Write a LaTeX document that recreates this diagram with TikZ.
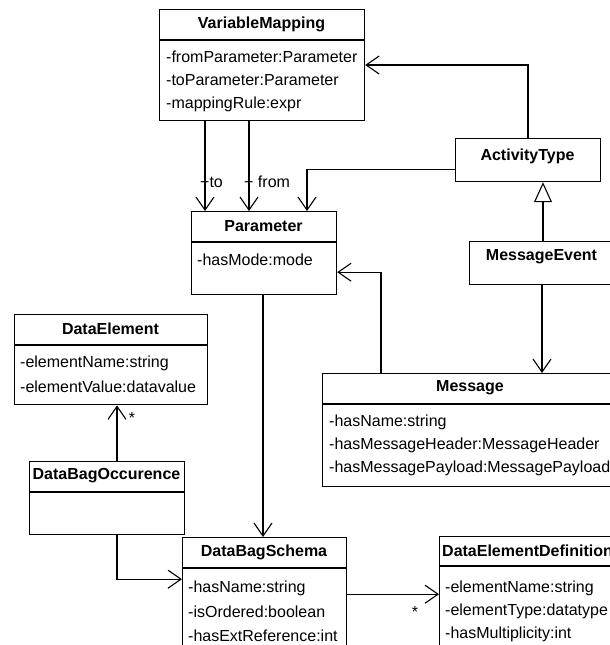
\documentclass[tikz,border=0pt]{standalone}
\usepackage{fontspec}
\setmainfont{Liberation Sans}
\usetikzlibrary{arrows.meta,calc}
\newcommand\umlfont{\fontsize{16}{19}\selectfont}
\tikzset{
  every node/.style={font=\umlfont, inner sep=0pt},
  box/.style={draw, line width=1.2pt, anchor=north west, inner sep=0pt},
  ttl/.style={font=\umlfont\bfseries},
  attr/.style={anchor=west},
  link/.style={line width=1.1pt, -{Straight Barb[length=13pt,width=18pt,line width=1.1pt]}},
  gen/.style={line width=1.1pt, -{Triangle[open,length=20pt,width=18pt,line width=1.1pt]}}
}
\begin{document}
\begin{tikzpicture}[x=1pt,y=-1pt]
\useasboundingbox (0,0) rectangle (610,645);
\clip (0,0) rectangle (610,645);

% VariableMapping
\node[box, minimum width=205pt, minimum height=30pt] (vmh) at (159,9) {};
\node[box, minimum width=205pt, minimum height=80pt] (vm) at (vmh.south west) {};
\node[ttl] (vmt) at (261.5,24) {VariableMapping};
\node[attr] (vm1) at (166,57) {-fromParameter:Parameter};
\node[attr] (vm2) at (166,80) {-toParameter:Parameter};
\node[attr] (vm3) at (166,104) {-mappingRule:expr};

% Parameter
\node[box, minimum width=145pt, minimum height=30pt] (parh) at (191,211) {};
\node[box, minimum width=145pt, minimum height=52pt] (par) at (parh.south west) {};
\node[ttl] (part) at (263.5,226) {Parameter};
\node[attr] (par1) at (197,260) {-hasMode:mode};

% ActivityType
\node[box, minimum width=145pt, minimum height=43pt] (at) at (455,138) {};
\node[ttl] (att) at (527.5,156) {ActivityType};

% MessageEvent
\node[box, minimum width=145pt, minimum height=43pt] (me) at (469,241) {};
\node[ttl] (met) at (541.5,257) {MessageEvent};

% Message
\node[box, minimum width=296pt, minimum height=30pt] (msgh) at (322,373) {};
\node[box, minimum width=296pt, minimum height=82pt] (msg) at (msgh.south west) {};
\node[ttl] (msgt) at (470,388) {Message};
\node[attr] (msg1) at (329,422) {-hasName:string};
\node[attr] (msg2) at (329,445) {-hasMessageHeader:MessageHeader};
\node[attr] (msg3) at (329,468) {-hasMessagePayload:MessagePayload};

% DataElement
\node[box, minimum width=193pt, minimum height=30pt] (deh) at (14,314) {};
\node[box, minimum width=193pt, minimum height=59pt] (de) at (deh.south west) {};
\node[ttl] (det) at (110.5,329) {DataElement};
\node[attr] (de1) at (20,363) {-elementName:string};
\node[attr] (de2) at (20,387) {-elementValue:datavalue};

% DataBagOccurence
\node[box, minimum width=155pt, minimum height=30pt] (dboh) at (29,461) {};
\node[box, minimum width=155pt, minimum height=42pt] (dbo) at (dboh.south west) {};
\node[ttl] (dbot) at (106.5,476) {DataBagOccurence};

% DataBagSchema
\node[box, minimum width=164pt, minimum height=30pt] (dbsh) at (182,537) {};
\node[box, minimum width=164pt, minimum height=100pt] (dbs) at (dbsh.south west) {};
\node[ttl] (dbst) at (264,552) {DataBagSchema};
\node[attr] (dbs1) at (188,588) {-hasName:string};
\node[attr] (dbs2) at (188,612) {-isOrdered:boolean};
\node[attr] (dbs3) at (188,636) {-hasExtReference:int};

% DataElementDefinition
\node[box, minimum width=200pt, minimum height=29pt] (dedh) at (439,536) {};
\node[box, minimum width=200pt, minimum height=100pt] (ded) at (dedh.south west) {};
\node[ttl, anchor=west] (dedt) at (442,551) {DataElementDefinition};
\node[attr] (ded1) at (445,588) {-elementName:string};
\node[attr] (ded2) at (445,611) {-elementType:datatype};
\node[attr] (ded3) at (445,634) {-hasMultiplicity:int};

% associations
\draw[link] ($(vm.south west)+(46,0)$) -- ($(parh.north west)+(14,0)$);
\draw[link] ($(vm.south west)+(90,0)$) -- ($(parh.north west)+(58,0)$);
\node[anchor=west] (lto) at (200,182) {+to};
\node[anchor=west] (lfrom) at (244,182) {+ from};
\draw[link] ($(at.south west)+(0,-13)$) -| ($(parh.north west)+(116,0)$);
\draw[link] ($(at.north west)+(73,0)$) |- ($(vmh.north east)+(0,56)$);
\draw[gen] ($(me.north west)+(74,0)$) -- ($(at.south west)+(88,0)$);
\draw[link] ($(me.south west)+(73,0)$) -- ($(msgh.north west)+(220,0)$);
\draw[link] ($(msgh.north west)+(59,0)$) |- ($(par.north east)+(0,30)$);
\draw[link] ($(par.south west)+(72,0)$) -- ($(dbsh.north west)+(81,0)$);
\draw[link] ($(dboh.north west)+(88,0)$) -- ($(de.south west)+(103,0)$);
\node (s1) at (132,418) {*};
\draw[link] ($(dbo.south west)+(88,0)$) |- ($(dbs.north west)+(0,11)$);
\draw[link] ($(dbs.north east)+(0,26)$) -- ($(ded.north west)+(0,28)$);
\node (s2) at (415,612) {*};
\end{tikzpicture}
\end{document}
